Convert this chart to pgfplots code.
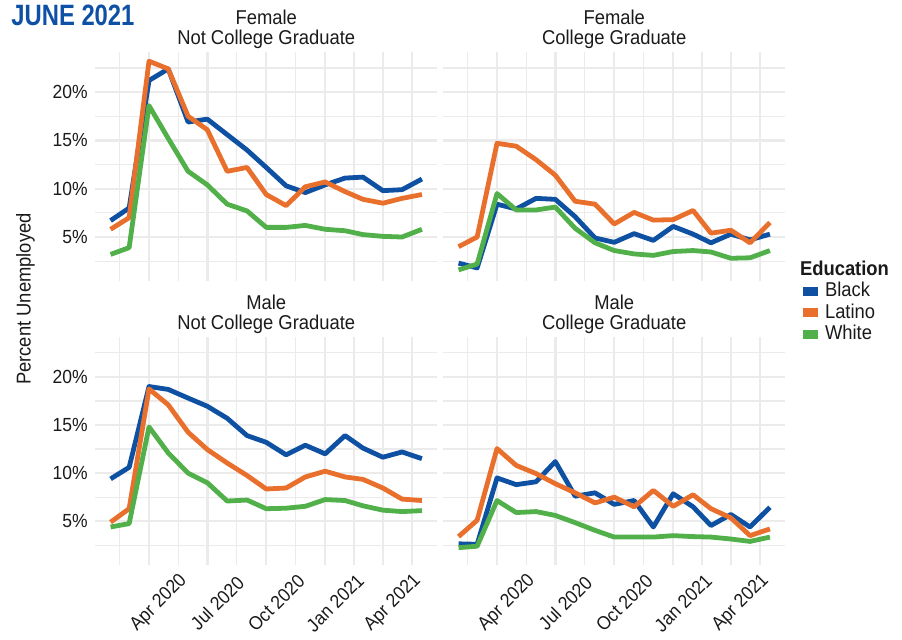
\documentclass[border=0pt]{standalone}
\usepackage{fontspec}
\setmainfont{Liberation Sans}[FakeStretch=0.92]
\newfontfamily\junefont{Liberation Sans}[FakeStretch=0.81]
\usepackage{pgfplots}
\usepackage{pgfplotstable}
\pgfplotsset{compat=1.18}
\definecolor{cblack}{RGB}{14,80,162}
\definecolor{clatino}{RGB}{232,112,44}
\definecolor{cwhite}{RGB}{82,176,74}
\definecolor{cjune}{RGB}{14,80,165}
\definecolor{gridc}{RGB}{235,235,235}
\definecolor{txt}{RGB}{26,26,26}

% day = days since 1 Jan 2020 (first of each month, Feb 2020 - Jun 2021)
\pgfplotstableread{
day black latino white
31  6.7  5.8  3.2
60  8.0  7.0  3.9
91  21.2 23.2 18.6
121 22.4 22.4 15.2
152 16.9 17.5 11.8
182 17.2 16.1 10.4
213 15.6 11.8 8.4
244 14.0 12.2 7.7
274 12.2 9.4  6.0
305 10.3 8.25 6.0
335 9.6  10.2 6.2
366 10.4 10.7 5.8
397 11.1 9.7  5.65
425 11.2 8.9  5.25
456 9.8  8.5  5.07
486 9.9  9.0  5.0
517 11.0 9.4  5.8
}\fnc
\pgfplotstableread{
day black latino white
31  2.3  4.0  1.6
60  1.8  5.0  2.2
91  8.4  14.7 9.5
121 7.9  14.4 7.8
152 9.0  13.0 7.8
182 8.9  11.4 8.1
213 7.1  8.7  5.9
244 4.9  8.4  4.4
274 4.45 6.35 3.6
305 5.35 7.55 3.25
335 4.65 6.75 3.1
366 6.1  6.8  3.5
397 5.3  7.75 3.6
425 4.4  5.4  3.45
456 5.3  5.7  2.8
486 4.7  4.4  2.85
517 5.3  6.5  3.6
}\fc
\pgfplotstableread{
day black latino white
31  9.4  4.9  4.4
60  10.6 6.3  4.75
91  19.0 18.75 14.8
121 18.7 17.1 12.1
152 17.8 14.25 10.0
182 16.95 12.45 9.0
213 15.7 11.05 7.1
244 13.9 9.75 7.2
274 13.2 8.35 6.3
305 11.9 8.45 6.35
335 12.9 9.6  6.55
366 12.0 10.2 7.25
397 13.9 9.6  7.15
425 12.6 9.35 6.6
456 11.65 8.45 6.15
486 12.2 7.3  6.0
517 11.5 7.15 6.1
}\mnc
\pgfplotstableread{
day black latino white
31  2.65 3.4  2.25
60  2.6  5.1  2.4
91  9.5  12.55 7.15
121 8.8  10.8 5.9
152 9.1  9.95 6.0
182 11.2 8.9  5.6
213 7.6  7.95 4.85
244 7.95 6.9  4.05
274 6.75 7.5  3.35
305 7.15 6.5  3.35
335 4.4  8.2  3.35
366 7.85 6.55 3.5
397 6.5  7.75 3.4
425 4.55 6.3  3.35
456 5.7  5.35 3.15
486 4.4  3.5  2.9
517 6.45 4.2  3.35
}\mc

\pgfplotsset{
 panel/.style={
  scale only axis, width=171.25pt, anchor=south west,
  xmin=6.7, xmax=541.3, ymin=0.45, ymax=24.15,
  axis line style={draw=none},
  major tick length=0pt, minor tick length=0pt,
  xtick={91,182,274,366,456},
  minor xtick={45.5,136.5,228,320,411,501.5},
  ytick={5,10,15,20},
  minor ytick={2.5,7.5,12.5,17.5,22.5},
  grid=both,
  major grid style={line width=1.2pt, draw=gridc},
  minor grid style={line width=0.6pt, draw=gridc},
  xticklabels={Apr 2020,Jul 2020,Oct 2020,Jan 2021,Apr 2021},
  yticklabels={5\%,10\%,15\%,20\%},
  /pgf/number format/assume math mode=true,
  tick label style={font=\fontsize{9.5}{11}\selectfont, text=txt},
  yticklabel style={anchor=east, inner sep=0pt, xshift=-3.5pt},
  xticklabel style={xshift=5pt, yshift=-19pt, rotate=45, anchor=center},
  every axis title/.style={at={(0.5,1)}, anchor=south, inner sep=0pt, yshift=1.5pt, align=center, font=\fontsize{10}{10}\selectfont, text=txt},
  every axis plot/.append style={line width=2.4pt, line join=round, no markers},
 },
}

\begin{document}
\begin{tikzpicture}
\useasboundingbox (0pt,0pt) rectangle (451pt,320pt);

\node[anchor=base west, inner sep=0pt, text=cjune, font=\junefont\bfseries\fontsize{14.7}{15}\selectfont] at (5.5pt,307pt) {JUNE 2021};
\node[rotate=90, anchor=center, inner sep=0pt, font=\fontsize{10}{10}\selectfont, text=txt] at (12.75pt,170.5pt) {Percent Unemployed};

% Female, not college
\begin{axis}[panel, height=114.5pt, at={(47.5pt,179.5pt)}, xticklabels={},
  title={Female\\Not College Graduate}]
\addplot[cblack]  table[x=day,y=black]  {\fnc};
\addplot[clatino] table[x=day,y=latino] {\fnc};
\addplot[cwhite]  table[x=day,y=white]  {\fnc};
\end{axis}

% Female, college
\begin{axis}[panel, height=114.5pt, at={(221.5pt,179.5pt)}, xticklabels={}, yticklabels={},
  title={Female\\College Graduate},
  legend style={at={(1.05,-0.092)}, anchor=west, draw=none, fill=none,
    inner sep=0pt, row sep=0pt, font=\fontsize{10}{10}\selectfont, text=txt,
    nodes={inner sep=0.5pt, text height=7.6pt, text depth=2.2pt},
    /tikz/every odd column/.append style={column sep=3pt}},
  legend cell align=left,
  legend image code/.code={\fill[#1, draw=none] (0pt,-2.25pt) rectangle (7.5pt,2.25pt);}]
\addlegendimage{empty legend}
\addlegendentry{\hspace*{-12.5pt}\textbf{Education}}
\addplot[cblack]  table[x=day,y=black]  {\fc};
\addlegendentry{Black}
\addplot[clatino] table[x=day,y=latino] {\fc};
\addlegendentry{Latino}
\addplot[cwhite]  table[x=day,y=white]  {\fc};
\addlegendentry{White}
\end{axis}

% Male, not college
\begin{axis}[panel, height=114pt, at={(47.5pt,37.5pt)},
  title={Male\\Not College Graduate}]
\addplot[cblack]  table[x=day,y=black]  {\mnc};
\addplot[clatino] table[x=day,y=latino] {\mnc};
\addplot[cwhite]  table[x=day,y=white]  {\mnc};
\end{axis}

% Male, college
\begin{axis}[panel, height=114pt, at={(221.5pt,37.5pt)}, yticklabels={},
  title={Male\\College Graduate}]
\addplot[cblack]  table[x=day,y=black]  {\mc};
\addplot[clatino] table[x=day,y=latino] {\mc};
\addplot[cwhite]  table[x=day,y=white]  {\mc};
\end{axis}
\end{tikzpicture}
\end{document}
